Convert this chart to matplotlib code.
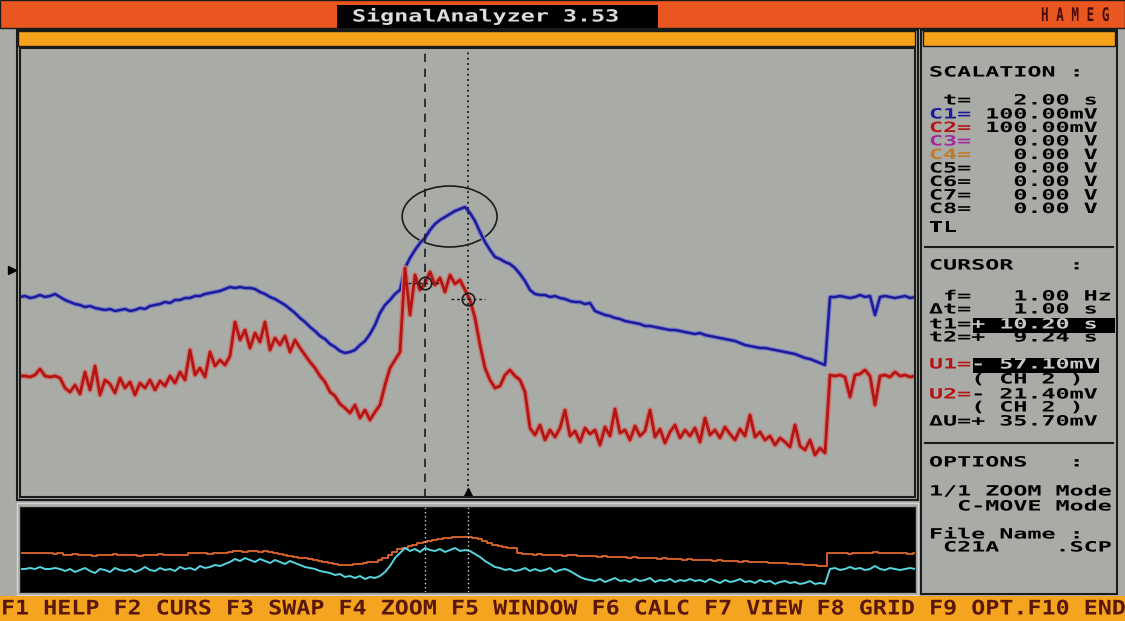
import numpy as np
import matplotlib
matplotlib.use('Agg')
import matplotlib.pyplot as plt
import matplotlib.patheffects as pe
from matplotlib.patches import Rectangle, Ellipse
from matplotlib.transforms import Affine2D

# ---- record: 180 samples, 2 s/div, 10 div ----
t_first, t_last = 0.19, 20.19

ch1_mv = [-13.5, -13, -14, -13.5, -12.5, -13.5, -13, -12, -13.5,
          -15, -16, -17, -17.5, -18.5, -18, -19, -19.5, -20, -19.5, -20.5, -20, -19.5, -20.5, -20, -19, -19.5,
          -18, -17.5, -17, -16, -16.5, -15, -15, -14, -14, -13, -13, -12, -11.5, -11, -10.5, -9.5, -8.5,
          -9, -8.5, -9, -9, -9.5, -11, -12, -13.5, -14.5, -16, -17.5, -19.5, -21.5, -24,
          -26, -28.5, -30.5, -33, -34.5, -37, -38.5, -40.5, -41.5, -41, -40, -37.5, -35.5, -32, -27.5, -21.5,
          -17.5, -15, -12, -10,
          1, 6, 10, 13.5, 16, 20, 23, 25, 26.5, 28, 29.5, 30.5, 31.5,
          28.5, 24.5, 19, 14, 10, 6.5, 5.5, 4, 3, 1, -2, -5.5, -10,
          -12, -12.5, -12.5, -13.5, -13, -14, -14.5, -15.5, -16, -16, -17, -16.5, -20.5, -21.5, -22.5, -23,
          -24, -24.5, -25.5, -26, -26.5, -27, -28, -28, -28.5, -29, -29.5, -30, -30, -30.5, -31, -31.5,
          -32, -31.5, -32.5, -33, -33.5, -34, -34.5, -35, -35.5, -36.5, -37.5, -38, -38.5, -39, -39, -39.5,
          -40, -40.5, -41, -41.5, -42, -43, -44, -44.5, -45.5, -46.5, -47.5,
          -13.5, -13.5, -13, -13.5, -14, -13.5, -12.5, -13.5, -13, -22.5, -13.5, -13, -13.5, -14, -13.5, -13,
          -14, -13.5]

ch2_mv = [-53, -53, -53.5, -52.5, -49.5, -53, -53.5, -53, -54,
          -59, -61, -57.5, -62, -51, -60, -48, -62.5, -55, -57, -61.5, -54, -59, -56, -62.5, -56.5, -59,
          -55, -60, -55.5, -58, -53, -56.5, -51, -55, -40, -52.5, -49, -53.5, -41, -48, -45, -47.5, -43,
          -26, -35, -30, -39, -31.5, -36, -26, -40, -34, -37.5, -33, -41, -35, -39,
          -42.5, -46, -49, -53, -56, -61, -63, -67, -69, -71.5, -67.5, -74, -70, -75, -71, -67.5, -57.5,
          -49, -45, -41,
          1, -22.5, -2.5, -10, -6.5, -1, -7.5, -4, -11, -2.5, -7, -5, -10,
          -15, -24, -37.5, -49, -55, -59, -58, -52.5, -50, -53, -55, -61, -79,
          -82.5, -77.5, -85, -80, -83.5, -79, -70, -83, -80.5, -86, -79, -82, -80, -87.5, -78.5, -83,
          -69.5, -81.5, -80, -85, -78, -83, -80.5, -70, -83.5, -79.5, -86.5, -81, -77.5, -84, -80, -83,
          -79, -86, -74, -82.5, -80, -84, -78.5, -82, -85, -79.5, -83, -72.5, -83.5, -81, -85, -83,
          -87.5, -84, -86, -88.5, -77.5, -88, -90, -85, -92.5, -89, -91.5,
          -52.5, -53, -52.5, -53.5, -63.5, -52.5, -52, -50, -53, -67.5, -53, -52.5, -53.5, -51, -53, -52.5,
          -53.5, -53]

# overview window (whole record, compressed)
ov_upper = [17, 17, 17, 17, 17, 17, 17, 16, 17,
            15, 15, 16, 15, 15, 15, 14, 15, 15, 15, 16, 15, 15, 15, 15, 14, 15, 15, 15, 16, 15, 15, 15,
            15, 15,
            17, 17, 17, 17, 16, 17, 17, 17, 18,
            19, 19, 18, 19, 19, 18, 19, 18,
            17, 16, 15, 14, 13, 12, 12, 11, 10, 9, 8, 7, 6, 5, 5, 5, 6, 6, 7, 8, 8, 10, 12, 15, 18, 21,
            22, 24, 25, 27, 28, 29, 30, 31, 32, 32, 33, 33, 33, 33, 32, 31, 29, 27, 25, 24, 23, 22, 22, 17,
            16, 16, 15, 16, 15, 15, 15, 15, 14, 15, 15, 14, 14, 14, 14, 13, 14, 13, 13, 13, 13, 12, 13,
            12, 12, 12, 12, 11, 12, 11, 11, 11, 10, 11, 10, 10, 10, 10, 9, 10, 9, 9, 9, 8, 9, 8, 8, 8, 8,
            7, 7, 7, 7, 6, 6, 6, 5, 5, 5, 4, 4,
            17, 17, 17, 17, 16, 17, 17, 17, 17, 18, 17, 17, 17, 17, 17, 17, 16, 17]

ov_lower = [1, 1, 2, 1, 3, 1, 1, 2, 1,
            -1, 1, -2, 0, 2, -1, -3, 1, 0, -2, 2, 0, -1, 1, -2, 0, 3, 0, -1, 2, 0, 1, -1, 3, 1, 2, 0, 4,
            2, 3, 5, 4, 6, 8,
            11, 9, 12, 10, 8, 11, 9, 7, 10, 8, 6, 9, 7, 5,
            3, 2, 1, -1, -2, -3, -5, -4, -7, -6, -8, -6, -9, -7, -8, -6, -2, 4, 12, 17,
            22, 19, 21, 18, 22, 20, 19, 21, 18, 20, 22, 19, 20,
            19, 16, 13, 9, 6, 3, 2, 0, 1, -1, 0, 2, -1,
            1, -1, 0, 2, -2, 0, 1, -1, -4, -7, -9, -10, -11, -9, -12, -10, -8, -11, -10, -12, -9, -11,
            -10, -8, -12, -10, -11, -9, -12, -10, -11, -9,
            -11, -10, -12, -9, -11, -13, -10, -12, -11, -9, -12, -11, -13, -10, -12, -11, -14, -12, -11,
            -13, -12, -14, -13, -11, -14, -13, -14,
            1, 2, 0, 1, 3, 1, 2, 0, 1, 4, 1, 0, 2, 1, 0, 1, 2, 1]

cursor_t = [9.24, 10.20]          # t2, t1
cursor_level = [-6.5, -14.5]      # crosshair heights on CH2

# ---- colours ----
GRAY = '#a9aca6'
TOP = '#e9561f'
ORANGE = '#f6a31b'
DARK = '#1b1b1b'
BLUE = '#1b1b9a'
RED = '#b41414'

W, H = 1125, 621
PITCH = 14.06          # one DOS character cell


class Stretch(pe.AbstractPathEffect):
    """scale glyphs to the DOS character cell"""
    def __init__(self, sx, sy=1.0):
        super().__init__()
        self.sx, self.sy = sx, sy

    def draw_path(self, renderer, gc, tpath, affine, rgbFace=None):
        renderer.draw_path(gc, tpath, Affine2D().scale(self.sx, self.sy) + affine, rgbFace)


def dos_text(ax, x, y, s, size, color, pitch=PITCH, sy=1.0):
    sx = pitch / (0.602 * size * 100 / 72)
    ax.text(x, y, s, fontsize=size, color=color, family='DejaVu Sans Mono',
            weight='bold', ha='left', va='center', path_effects=[Stretch(sx, sy)])


fig = plt.figure(figsize=(W / 100, H / 100), dpi=100)
fig.patch.set_facecolor(GRAY)


def px_axes(x0, y0, x1, y1):
    return fig.add_axes([x0 / W, 1 - y1 / H, (x1 - x0) / W, (y1 - y0) / H])


# ---- screen chrome ----
bg = px_axes(0, 0, W, H)
bg.set_xlim(0, W)
bg.set_ylim(H, 0)
bg.axis('off')
bg.set_zorder(-1)

bg.add_patch(Rectangle((0, 0), W, 28, fc=TOP, ec=DARK, lw=1))
bg.add_patch(Rectangle((337, 5), 321, 23, fc='black'))
dos_text(bg, 352, 16, 'SignalAnalyzer 3.53', 12, '#dcdcdc')
dos_text(bg, 1041, 17, 'H A M E G', 10, '#4a0c0c', 7.6, sy=1.35)

bg.add_patch(Rectangle((17, 30), 901, 470, fc='none', ec=DARK, lw=1.5))
bg.add_patch(Rectangle((18, 31), 897, 15, fc=ORANGE, ec=DARK, lw=1))
bg.add_patch(Rectangle((921, 30), 196, 564, fc=GRAY, ec=DARK, lw=1.5))
bg.add_patch(Rectangle((923, 31), 192, 15, fc=ORANGE, ec=DARK, lw=1))
bg.add_patch(Rectangle((17, 503), 901, 92, fc='none', ec='#d4d4d4', lw=1))
bg.plot([12], [270], marker='>', color='black', ms=6)

# status line
bg.add_patch(Rectangle((0, 596), W, 25, fc='#f5a41f'))
dos_text(bg, 1, 609, 'F1 HELP F2 CURS F3 SWAP F4 ZOOM F5 WINDOW F6 CALC F7 VIEW F8 GRID F9 OPT.F10 END',
         14.5, '#5a170c')

# ---- right info panel ----
FS, SY = 8.5, 1.2
rows = [(73, 'SCALATION :', 'black'), (101, ' t=   2.00 s', 'black'),
        (228, 'TL', 'black'), (266, 'CURSOR    :', 'black'),
        (297, ' f=   1.00 Hz', 'black'), (310, '\u0394t=   1.00 s', 'black'),
        (338, 't2=+  9.24 s', 'black'), (380, '   ( CH 2 )', 'black'),
        (408, '   ( CH 2 )', 'black'), (422, '\u0394U=+ 35.70mV', 'black'),
        (463, 'OPTIONS   :', 'black'), (492, '1/1 ZOOM Mode', 'black'),
        (507, '  C-MOVE Mode', 'black'), (535, 'File Name :', 'black'),
        (548, ' C21A    .SCP', 'black')]
for y, s, c in rows:
    dos_text(bg, 929, y, s, FS, c, sy=SY)

scal = [('C1=', '100.00mV', BLUE), ('C2=', '100.00mV', RED), ('C3=', '  0.00 V', '#a02ca0'),
        ('C4=', '  0.00 V', '#c07a2a'), ('C5=', '  0.00 V', 'black'), ('C6=', '  0.00 V', 'black'),
        ('C7=', '  0.00 V', 'black'), ('C8=', '  0.00 V', 'black')]
for k, (lab, val, c) in enumerate(scal):
    y = 115 + k * 13.5
    dos_text(bg, 929, y, lab, FS, c, sy=SY)
    dos_text(bg, 929 + 4 * PITCH, y, val, FS, 'black', sy=SY)

bg.add_patch(Rectangle((973, 318), 142, 15, fc='black'))
dos_text(bg, 929, 325, 't1=', FS, 'black', sy=SY)
dos_text(bg, 929 + 3 * PITCH, 325, '+ 10.20 s', FS, '#c8c8c8', sy=SY)
bg.add_patch(Rectangle((973, 358), 126, 15, fc='black'))
dos_text(bg, 929, 365, 'U1=', FS, RED, sy=SY)
dos_text(bg, 929 + 3 * PITCH, 365, '- 57.10mV', FS, '#c8c8c8', sy=SY)
dos_text(bg, 929, 395, 'U2=', FS, RED, sy=SY)
dos_text(bg, 929 + 3 * PITCH, 395, '- 21.40mV', FS, 'black', sy=SY)
for y in (247, 443):
    bg.plot([925, 1113], [y, y], color=DARK, lw=1.5)

# ---- main signal window ----
t = np.linspace(t_first, t_last, len(ch1_mv))

ax = px_axes(20, 48, 915, 497)
ax.set_facecolor(GRAY)
ax.set_xlim(t_first, t_last)
ax.set_ylim(-113.5, 111)
ax.set_xticks([])
ax.set_yticks([])
for s in ax.spines.values():
    s.set_color(DARK)
    s.set_linewidth(1.5)

ax.plot(t, ch1_mv, color=BLUE, lw=1.8,
        path_effects=[pe.Stroke(linewidth=3.4, foreground='#7d80c6'), pe.Normal()])
ax.plot(t, ch2_mv, color=RED, lw=2.0,
        path_effects=[pe.Stroke(linewidth=4.0, foreground='#c77b74'), pe.Normal()])

ax.axvline(cursor_t[0], color=DARK, lw=1.2, ls=(0, (5, 4)))
ax.axvline(cursor_t[1], color=DARK, lw=1.2, ls=(0, (1.2, 2)))
for tc, lv in zip(cursor_t, cursor_level):
    ax.plot([tc - 0.38, tc + 0.38], [lv, lv], color=DARK, lw=1, ls=(0, (2, 2)))
    ax.plot([tc], [lv], marker='o', ms=9, mfc='none', mec=DARK, mew=1.2)
ax.plot([cursor_t[1]], [-111], marker='^', color='black', ms=6, clip_on=False)
ax.add_patch(Ellipse((9.79, 26.75), 2.12, 30.5, fill=False, ec=DARK, lw=1.2))

# ---- overview window ----
ov = px_axes(20, 507, 915, 592)
ov.set_facecolor('black')
ov.set_xlim(t_first, t_last)
ov.set_ylim(-22, 63)
ov.set_xticks([])
ov.set_yticks([])
for s in ov.spines.values():
    s.set_color('#202020')

ov.plot(t, ov_upper, color='#e0662e', lw=1.3, drawstyle='steps-mid')
ov.plot(t, ov_lower, color='#55d6e0', lw=1.4)
for tc in cursor_t:
    ov.axvline(tc, color='#d8d8d8', lw=1, ls=(0, (1, 2)))

fig.savefig('out.png', dpi=100, facecolor=fig.get_facecolor())
